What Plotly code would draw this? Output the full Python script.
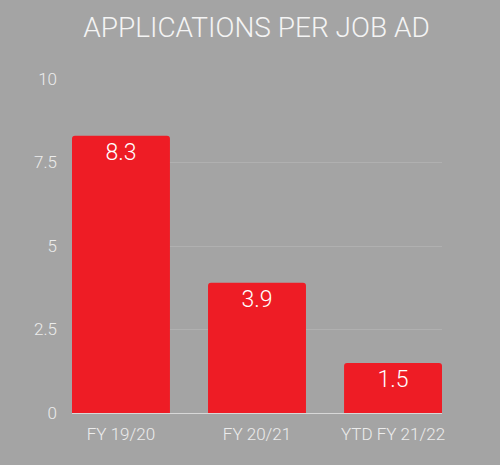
import plotly.graph_objects as go

periods = ["FY 19/20", "FY 20/21", "YTD FY 21/22"]
apps_per_ad = [8.3, 3.9, 1.5]
y_ticks = [0, 2.5, 5, 7.5, 10]
y_tick_labels = ["0", "2.5", "5", "7.5", "10"]

fig = go.Figure()
fig.add_trace(go.Bar(
    x=periods,
    y=apps_per_ad,
    text=[str(v) for v in apps_per_ad],
    textposition="inside",
    insidetextanchor="end",
    textfont=dict(color="white", size=23, family="Roboto", weight=300),
    marker=dict(color="#ee1c25", line=dict(width=0)),
))

fig.update_layout(
    width=500, height=465,
    paper_bgcolor="#a4a4a4",
    plot_bgcolor="#a4a4a4",
    margin=dict(l=72, r=58, t=79, b=52),
    bargap=0.28,
    barcornerradius=3,
    showlegend=False,
    title=dict(text="APPLICATIONS PER JOB AD", x=0.513, xanchor="center",
               y=0.942, yanchor="middle",
               font=dict(color="#f4f4f4", size=28, family="Roboto", weight=300)),
    font=dict(family="Roboto", color="#ececec"),
)
fig.update_xaxes(range=[-0.36, 2.36], showgrid=False, showline=False,
                 tickfont=dict(size=17, color="#ececec", weight=300),
                 ticks="", ticklabelstandoff=9)
fig.update_yaxes(range=[0, 10], tickvals=y_ticks, ticktext=y_tick_labels,
                 showgrid=True, gridcolor="#b0b0b0", gridwidth=1,
                 zeroline=True, zerolinecolor="#d8d8d8", zerolinewidth=1,
                 tickfont=dict(size=17, color="#ececec", weight=300),
                 ticks="", ticklabelstandoff=14)

# drop the page margin so the figure sits at the window corner
fig.write_html("out.html", config={"displayModeBar": False},
               post_script="document.body.style.margin='0';")
